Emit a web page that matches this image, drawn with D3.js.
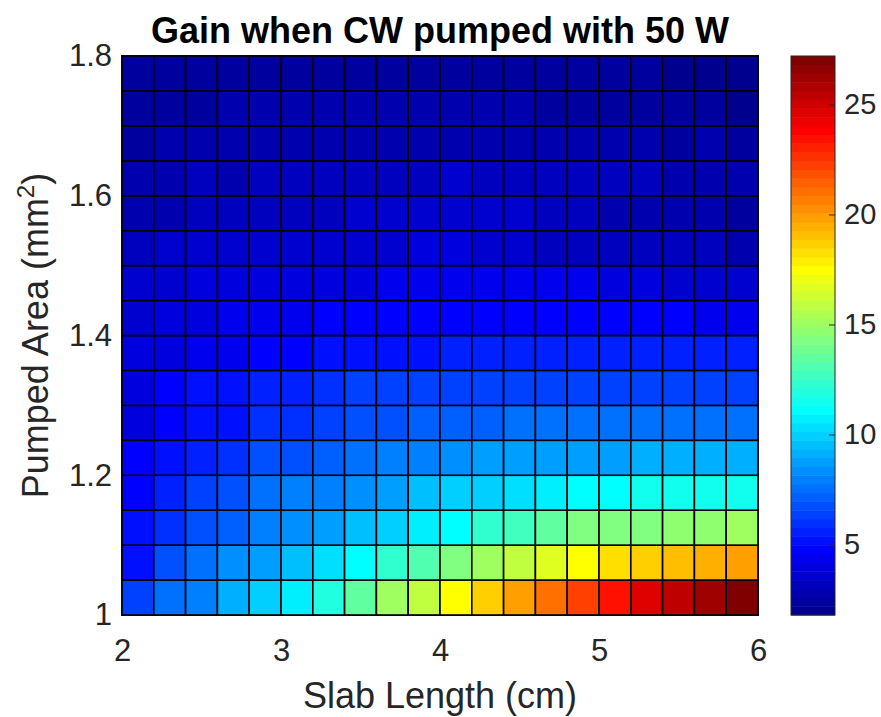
<!DOCTYPE html>
<html>
<head>
<meta charset="utf-8">
<script src="https://cdn.jsdelivr.net/npm/d3@7/dist/d3.min.js"></script>
<style>
  body { margin: 0; background: #fff; }
  svg { display: block; }
  text { font-family: "Liberation Sans", Arial, Helvetica, sans-serif; }
</style>
</head>
<body>
<svg id="chart" width="881" height="717"></svg>
<script>
// Grid vertices (pcolor style: each cell takes the value at its lower-left vertex)
const slabLengthEdges = [2.0, 2.2, 2.4, 2.6, 2.8, 3.0, 3.2, 3.4, 3.6, 3.8, 4.0,
                         4.2, 4.4, 4.6, 4.8, 5.0, 5.2, 5.4, 5.6, 5.8, 6.0];
const pumpedAreaEdges = [1.00, 1.05, 1.10, 1.15, 1.20, 1.25, 1.30, 1.35, 1.40,
                         1.45, 1.50, 1.55, 1.60, 1.65, 1.70, 1.75, 1.80];

// Gain per cell, one array per pumped-area row (slab length 2.0 -> 5.8 cm)
const gainArea100 = [6.4, 7.4, 8.0, 9.0, 9.8, 10.8, 11.9, 13.5, 14.9, 15.9, 17.5, 18.7, 19.9, 21.1, 22.3, 23.5, 24.6, 25.4, 26.2, 27.0];
const gainArea105 = [5.2, 6.8, 7.6, 8.2, 8.8, 9.6, 10.2, 11.1, 12.3, 13.1, 14.3, 15.0, 15.9, 16.7, 17.5, 18.1, 18.7, 19.1, 19.5, 19.9];
const gainArea110 = [5.0, 6.0, 6.8, 7.2, 7.8, 8.4, 8.8, 9.4, 10.0, 10.8, 11.2, 12.2, 12.7, 13.4, 14.2, 14.3, 14.4, 14.5, 14.7, 15.1];
const gainArea115 = [4.8, 5.6, 6.4, 6.8, 7.4, 7.8, 8.0, 8.4, 8.8, 9.4, 9.8, 10.0, 10.4, 10.6, 11.0, 11.3, 11.5, 11.5, 11.5, 11.4];
const gainArea120 = [4.6, 5.2, 5.6, 6.0, 6.6, 6.8, 7.2, 7.4, 7.8, 8.0, 8.4, 8.6, 8.6, 8.8, 8.8, 8.9, 9.0, 9.0, 9.0, 9.0];
const gainArea125 = [4.1, 4.6, 5.0, 5.2, 5.8, 6.0, 6.4, 6.6, 6.8, 7.0, 7.2, 7.3, 7.4, 7.4, 7.4, 7.4, 7.4, 7.4, 7.4, 7.4];
const gainArea130 = [4.0, 4.7, 5.2, 5.2, 5.4, 5.6, 6.0, 6.2, 6.2, 6.4, 6.4, 6.5, 6.5, 6.5, 6.5, 6.5, 6.5, 6.5, 6.5, 6.5];
const gainArea135 = [3.8, 4.0, 4.2, 4.4, 4.6, 4.8, 5.0, 5.2, 5.2, 5.3, 5.5, 5.5, 5.6, 5.6, 5.6, 5.6, 5.6, 5.6, 5.6, 5.6];
const gainArea140 = [3.6, 4.0, 4.0, 4.2, 4.2, 4.4, 4.6, 4.6, 4.8, 4.8, 4.8, 4.8, 4.8, 4.8, 4.8, 4.8, 4.8, 4.7, 4.5, 4.4];
const gainArea145 = [3.4, 3.4, 3.8, 3.8, 4.0, 4.0, 4.0, 4.0, 4.2, 4.2, 4.4, 4.4, 4.4, 4.3, 4.2, 4.0, 3.8, 3.7, 3.6, 3.6];
const gainArea150 = [3.2, 3.4, 3.4, 3.4, 3.6, 3.6, 3.6, 3.6, 3.6, 3.8, 3.8, 3.6, 3.6, 3.2, 3.2, 3.2, 3.0, 3.0, 3.0, 2.8];
const gainArea155 = [2.8, 2.8, 3.3, 3.3, 3.1, 3.1, 3.1, 3.4, 3.4, 3.4, 3.5, 3.4, 3.4, 3.0, 3.0, 2.9, 2.8, 2.7, 2.6, 2.5];
const gainArea160 = [2.8, 2.8, 3.0, 2.8, 3.2, 3.2, 3.2, 3.2, 3.2, 3.2, 3.4, 3.2, 3.3, 3.3, 3.3, 3.2, 3.0, 2.8, 2.8, 2.8];
const gainArea165 = [2.4, 2.8, 2.8, 2.8, 2.7, 2.7, 2.7, 2.7, 2.7, 2.7, 2.7, 2.8, 2.8, 2.7, 2.8, 2.8, 2.7, 2.4, 2.7, 2.4];
const gainArea170 = [2.4, 2.3, 2.3, 2.8, 2.8, 2.8, 2.8, 2.8, 2.7, 2.7, 2.8, 2.8, 2.8, 2.4, 2.4, 2.4, 2.4, 2.4, 2.4, 2.0];
const gainArea175 = [2.3, 2.3, 2.3, 2.3, 2.3, 2.3, 2.3, 2.3, 2.3, 2.3, 2.3, 2.4, 2.3, 2.3, 2.3, 2.3, 2.3, 2.0, 2.0, 2.0];

const gainRows = [gainArea100, gainArea105, gainArea110, gainArea115, gainArea120, gainArea125,
                  gainArea130, gainArea135, gainArea140, gainArea145, gainArea150, gainArea155,
                  gainArea160, gainArea165, gainArea170, gainArea175];

const xTicks = [2, 3, 4, 5, 6];
const yTicks = [1, 1.2, 1.4, 1.6, 1.8];
const colorTicks = [5, 10, 15, 20, 25];
const colorLimits = [1.8, 27.2];

const titleText = "Gain when CW pumped with 50 W";
const xLabelText = "Slab Length (cm)";

// MATLAB-style jet colormap with m entries
function jetColors(m) {
  const n = Math.ceil(m / 4);
  const u = [];
  for (let i = 1; i <= n; i++) u.push(i / n);
  for (let i = 1; i < n; i++) u.push(1);
  for (let i = n; i >= 1; i--) u.push(i / n);
  const g0 = Math.ceil(n / 2) - (m % 4 === 1 ? 1 : 0);
  const J = Array.from({ length: m }, () => [0, 0, 0]);
  u.forEach((val, k) => {
    const gi = g0 + k + 1, ri = gi + n, bi = gi - n;
    if (ri >= 1 && ri <= m) J[ri - 1][0] = val;
    if (gi >= 1 && gi <= m) J[gi - 1][1] = val;
    if (bi >= 1 && bi <= m) J[bi - 1][2] = val;
  });
  return J.map(c => d3.rgb(c[0] * 255, c[1] * 255, c[2] * 255).formatHex());
}

const palette = jetColors(64);
const color = d3.scaleQuantize().domain(colorLimits).range(palette);

const plot = { left: 122, right: 758, top: 56, bottom: 615 };
const bar = { left: 791, right: 835 };

const svg = d3.select("#chart");
const x = d3.scaleLinear().domain([2, 6]).range([plot.left, plot.right]);
const y = d3.scaleLinear().domain([1, 1.8]).range([plot.bottom, plot.top]);
const cy = d3.scaleLinear().domain(colorLimits).range([plot.bottom, plot.top]);

const axisColor = "#262626";
const fontStack = "'Liberation Sans', Arial, sans-serif";

// axes box (sits under the cells)
svg.append("rect")
  .attr("x", plot.left - 0.5).attr("y", plot.top - 0.5)
  .attr("width", plot.right - plot.left + 1).attr("height", plot.bottom - plot.top + 1)
  .attr("fill", "none").attr("stroke", axisColor).attr("stroke-width", 1);

// heatmap cells
const cells = [];
gainRows.forEach((row, i) => {
  row.forEach((v, j) => cells.push({ i, j, v }));
});

svg.append("g").selectAll("rect")
  .data(cells)
  .join("rect")
  .attr("x", d => x(slabLengthEdges[d.j]))
  .attr("y", d => y(pumpedAreaEdges[d.i + 1]))
  .attr("width", d => x(slabLengthEdges[d.j + 1]) - x(slabLengthEdges[d.j]))
  .attr("height", d => y(pumpedAreaEdges[d.i]) - y(pumpedAreaEdges[d.i + 1]))
  .attr("fill", d => color(d.v))
  .attr("stroke", "#000")
  .attr("stroke-width", 1.6);

// axes
const tickFont = 31;
const xAxis = svg.append("g")
  .attr("transform", `translate(0,${plot.bottom})`)
  .call(d3.axisBottom(x).tickValues(xTicks).tickSize(0).tickPadding(24).tickFormat(d3.format("d")));
const yAxis = svg.append("g")
  .attr("transform", `translate(${plot.left},0)`)
  .call(d3.axisLeft(y).tickValues(yTicks).tickSize(0).tickPadding(10).tickFormat(d => d === 1 ? "1" : d3.format(".1f")(d)));
[xAxis, yAxis].forEach(g => {
  g.select(".domain").remove();
  g.selectAll("text").attr("font-size", tickFont).attr("fill", axisColor).attr("font-family", fontStack);
});

// colorbar
const step = (colorLimits[1] - colorLimits[0]) / palette.length;
svg.append("g").selectAll("rect")
  .data(palette)
  .join("rect")
  .attr("x", bar.left)
  .attr("y", (c, k) => cy(colorLimits[0] + (k + 1) * step))
  .attr("width", bar.right - bar.left)
  .attr("height", (c, k) => cy(colorLimits[0] + k * step) - cy(colorLimits[0] + (k + 1) * step) + 0.5)
  .attr("fill", c => c);

svg.append("rect")
  .attr("x", bar.left).attr("y", plot.top)
  .attr("width", bar.right - bar.left).attr("height", plot.bottom - plot.top)
  .attr("fill", "none").attr("stroke", axisColor).attr("stroke-width", 1);

const cAxis = svg.append("g")
  .attr("transform", `translate(${bar.right},0)`)
  .call(d3.axisRight(cy).tickValues(colorTicks).tickSize(-6).tickPadding(16));
cAxis.select(".domain").remove();
cAxis.selectAll("line").attr("stroke", axisColor);
cAxis.selectAll("text").attr("font-size", 29).attr("fill", axisColor).attr("font-family", fontStack)
  .attr("x", 9);

// title and axis labels
svg.append("text")
  .attr("x", (plot.left + plot.right) / 2).attr("y", 43)
  .attr("text-anchor", "middle")
  .attr("font-size", 36).attr("font-weight", "bold").attr("fill", "#000")
  .text(titleText);

svg.append("text")
  .attr("x", (plot.left + plot.right) / 2).attr("y", 708)
  .attr("text-anchor", "middle")
  .attr("font-size", 36).attr("fill", axisColor)
  .text(xLabelText);

const yl = svg.append("text")
  .attr("transform", `translate(48,${(plot.top + plot.bottom) / 2}) rotate(-90)`)
  .attr("text-anchor", "middle")
  .attr("font-size", 36).attr("fill", axisColor);
yl.append("tspan").text("Pumped Area (mm");
yl.append("tspan").attr("font-size", 24).attr("dy", -14).text("2");
yl.append("tspan").attr("dy", 14).text(")");
</script>
</body>
</html>
